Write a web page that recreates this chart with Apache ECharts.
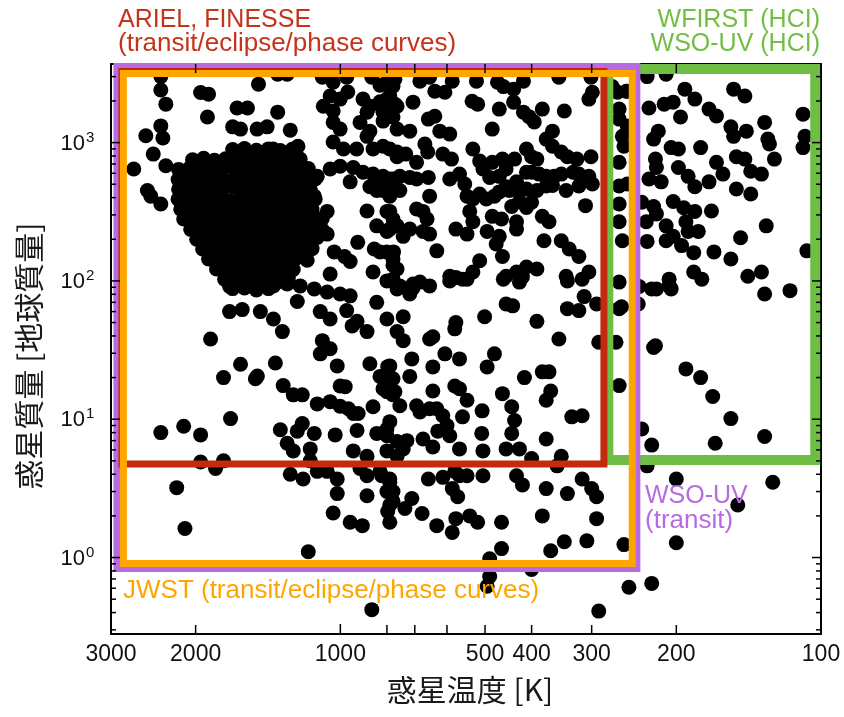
<!DOCTYPE html>
<html>
<head>
<meta charset="utf-8">
<script src="https://cdn.jsdelivr.net/npm/echarts@6/dist/echarts.min.js"></script>
<style>html,body{margin:0;padding:0;background:#fff}#c{width:844px;height:717px}</style>
</head>
<body>
<div id="c"></div>
<script>
// ---- planets: [temperature K, mass (Earth masses)] ----
const planetsUpperLeft = [
[2363,3000],[2363,2400],[2307,1897],[1953,2300],[1880,2240],[1480,2646],[1350,3124],[1290,3124],[1640,1780],[1560,1780],
[1890,1530],[1350,1660],[2363,1320],[2539,1120],[2340,1080],[2450,826],[2690,644],[2520,450],[2479,410],[2363,360],
[2307,680],[1675,1300],[1613,1252],[1490,1252],[1420,1300],[1271,1230],[1225,940],[1380,898],[1117,570],[1050,644],
[1133,410],[1065,318],[1065,218],[1030,162],[980,150],[920,190],[880,320],[850,170],[827,162],[775,162],
[800,318],[789,237],[815,450],[789,410]
];
const planetsHotJupiterCluster = [
[1675,890],[1583,905],[1495,880],[1411,900],[1333,875],[1259,895],
[2030,750],[1925,770],[1827,745],[1733,765],[1645,755],[1560,775],[1480,750],[1405,760],[1333,770],[1265,745],[1212,760],
[2170,640],[2058,655],[1953,630],[1853,650],[1758,640],[1667,660],[1583,635],[1502,650],[1425,645],[1352,630],[1283,655],[1218,640],[1166,650],
[2175,540],[2097,550],[1990,535],[1889,555],[1792,545],[1700,530],[1613,550],[1530,540],[1453,555],[1378,535],[1308,545],[1241,550],[1178,535],[1128,545],
[2170,460],[2058,470],[1953,455],[1853,465],[1758,460],[1667,475],[1583,455],[1502,468],[1425,460],[1352,470],[1283,455],[1218,465],[1155,460],
[2175,390],[2097,395],[1990,385],[1889,400],[1792,390],[1700,380],[1613,395],[1530,388],[1453,398],[1378,385],[1308,392],[1241,400],[1178,385],[1128,390],
[2148,330],[2038,335],[1934,325],[1836,338],[1741,330],[1652,322],[1567,335],[1488,328],[1411,336],[1339,325],[1271,332],[1206,340],[1145,328],
[2118,280],[2010,285],[1907,276],[1810,288],[1717,280],[1629,274],[1545,284],[1467,278],[1391,286],[1320,276],[1253,282],[1189,288],[1128,278],[1090,283],
[2048,236],[1943,240],[1844,233],[1750,242],[1660,236],[1575,230],[1495,240],[1418,235],[1346,242],[1277,232],[1212,238],[1150,243],[1090,234],
[1990,200],[1889,204],[1792,198],[1700,206],[1613,200],[1530,196],[1453,204],[1378,199],[1308,205],[1241,197],[1178,202],[1117,206],
[1934,170],[1836,173],[1741,167],[1652,175],[1567,170],[1488,166],[1411,174],[1339,169],[1271,172],[1206,166],[1145,171],
[1880,144],[1783,146],[1692,141],[1605,148],[1523,144],[1445,140],[1371,147],[1302,143],[1235,146],[1172,141],
[1810,122],[1717,124],[1629,120],[1545,125],[1467,121],[1391,118],[1320,124],[1253,121],
[1741,103],[1652,105],[1567,101],[1488,106],[1411,102],[1339,99],[1283,104],
[1675,88],[1583,89],[1495,86],[1411,88]
];
const planetsUpperMiddleA = [
[1090,2970],[1035,2730],[970,2970],[860,2970],[800,2730],[770,2873],[1050,2170],[1001,2062],[965,2320],[1085,1830],
[1035,1690],[897,2062],[868,1830],[827,1970],[789,2170],[762,1830],[880,1660],[815,1660],[777,1530],[1035,1400],
[1001,1252],[910,1400],[880,1110],[868,1210],[1035,1010],[985,898],[925,898],[855,898],[815,940],[762,855],
[1001,675],[940,660],[897,610],[855,592],[815,570],[777,545],[954,520],[868,480],[840,450],[789,318],
[777,280],[762,250],[840,250],[800,228],[800,162],[777,130],[954,138],[855,116],[777,103],[762,87.5],
[840,70],[1050,112]
];
const planetsMiddleLeft = [
[1700,91],[1488,90],[1378,92],[1290,95],[1212,92],[1133,87.5],[1065,83],[1001,80.5],[954,78],[1700,60],
[1600,62],[1467,60],[1378,53],[1320,43],[1229,71],[1101,60],[1050,53],[970,61],[1862,38],[1613,25],
[1488,20.5],[1502,19.6],[1750,20],[1365,25.5],[1315,17.5],[1253,15],[1200,15],[1090,37],[1101,29.7],[1050,32.3],
[1015,24.3],[1001,17.4],[977,17.2],[1117,12.9],[1050,13.4],[1001,12.4],[962,11.9],[880,43],[868,25.2],[945,47.3],
[923,51],[797,24],[781,19.6],[800,15.8],[777,15],[855,12.3],[940,11],[918,11],[1692,10.1],[2363,8.0],
[2118,8.9],[1953,7.7],[1953,4.9],[1818,4.4],[1750,5.0],[1333,8.4],[1290,6.7],[1253,5.9],[1229,8.2],[1200,9.3],
[1133,7.9],[1155,6.1],[1025,7.7],[923,8.3],[840,7.9],[800,8.5],[940,5.9],[880,5.4],[800,5.9],[762,5.4],
[1155,5.0],[1117,4.2],[1065,4.2],[1015,3.7],[1271,4.0],[1195,3.7],[910,4.4],[880,3.9],[820,3.9],[789,3.5],
[777,3.0],[1015,2.9],[880,2.8],[789,2.4],[2190,3.2],[1035,2.1],[954,1.8],[900,1.7],[789,1.8],[2105,1.62],
[1166,1.1],[860,0.42]
];
const planetsMiddleRight = [
[800,100],[752,92],[706,95],[652,92],[592,100],[545,103],[458,103],[424,98],[337,100],[314,103],
[263,98],[242,92],[225,87.5],[207,92],[717,80.5],[800,53],[740,55],[762,43],[740,37],[652,38],
[642,39.5],[575,50],[578,45],[501,55],[452,68],[438,66],[390,51],[351,38],[337,63],[319,61],
[311,77],[293,68],[263,63],[267,36],[263,17.5],[223,33],[290,36],[789,24.3],[827,20.4],[777,19.6],
[815,16.6],[770,15.8],[710,27.3],[717,20.4],[642,23.9],[606,29.7],[565,27.3],[495,23.9],[478,29.7],[414,20],
[380,22],[368,22],[365,16],[373,13.7],[460,15.3],[440,12.3],[434,9.8],[440,7.9],[424,6.1],[507,11.5],
[545,13.7],[565,16.6],[578,17.4],[642,16],[752,12.5],[694,12.5],[683,11.3],[652,11.9],[630,11.9],[612,10.6],
[600,9],[557,10.4],[508,7.9],[452,6.1],[373,7.2],[330,10.4],[314,10.6],[789,9.6],[800,7.6],[762,6.9],
[727,7.0],[673,7.2],[642,6.3],[627,8.2],[592,7.6],[740,6.1],[565,6.1],[505,5.9],[400,5.2],[347,5.4],
[354,4.6],[827,4.2],[789,3.7],[800,3.0],[777,2.55],[797,2.15],[656,3.7],[612,3.8],[578,4.2],[565,3.9],
[545,3.9],[505,3.9],[585,3.15],[570,2.75],[710,2.67],[734,2.26],[676,2.08],[630,1.7],[575,1.91],[585,1.52],
[538,2.0],[518,1.8],[462,1.8],[430,3.9],[418,3.35],[373,3.15],[337,2.9],[314,3.7],[300,3.15],[293,2.75],
[380,2.0],[293,1.91],[462,1.16],[365,1.12],[342,1.3],[307,1.32],[257,1.24],[489,0.98],[489,0.73],[400,0.82],
[251,0.61],[225,0.65],[236,8.5],[225,6.5],[230,4.6],[200,3.7],[200,1.28],[290,0.41],[495,0.62]
];
const planetsUpperMiddleB = [
[827,2600],[777,2560],[800,2062],[683,2780],[652,2970],[585,2780],[521,2780],[471,2730],[458,2540],[436,2434],
[416,2780],[351,2970],[301,2970],[299,2310],[265,2310],[253,2350],[636,2350],[606,2310],[706,1960],[770,1897],
[800,1606],[656,1478],[636,1550],[532,1990],[518,1897],[467,1746],[436,1960],[416,1660],[405,1540],[395,1410],
[380,1746],[342,1690],[304,2062],[263,1746],[263,1478],[253,1320],[762,1252],[717,1210],[621,1210],[592,1152],
[483,1252],[815,1430],[362,1210],[373,1060],[789,898],[762,790],[731,826],[694,720],[667,976],[658,855],
[612,826],[587,760],[530,898],[827,545],[789,545],[752,570],[717,560],[694,545],[656,560],[592,545],
[565,592],[551,502],[513,735],[505,644],[483,720],[460,760],[452,644],[434,760],[410,898],[400,790],
[390,760],[362,940],[347,855],[337,790],[322,760],[301,790],[263,720],[489,560],[467,570],[452,480],
[430,520],[410,610],[400,610],[386,592],[373,570],[359,570],[347,592],[328,610],[319,592],[304,570],
[299,502],[263,485],[789,440],[752,450],[652,410],[545,410],[530,391],[513,425],[497,391],[478,410],
[467,440],[445,450],[424,440],[410,462],[390,450],[373,485],[362,490],[339,450],[319,485],[440,345],
[424,375],[410,340],[400,370],[694,331],[673,318],[660,280],[538,318],[530,268],[483,293],[462,280],
[430,268],[380,293],[368,268],[309,350],[263,268],[740,210],[717,237],[673,228],[652,218],[575,237],
[545,218],[495,228],[467,210],[430,237],[377,195],[347,195],[334,170],[319,150],[777,144],[630,165],
[513,140],[474,185],[460,150],[410,126],[390,122],[418,107],[304,116],[762,122],[683,98],[706,89],
[592,108],[575,106],[557,103],[530,116],[452,108],[430,116],[339,108],[259,195],[263,360]
];
const planetsCool = [
[230,3000],[210,3124],[254,2350],[272,2540],[192,2434],[183,2062],[152,2434],[144,2170],[228,1780],[212,1897],
[203,1960],[196,1530],[171,1746],[165,1560],[131,1400],[109,1606],[154,1300],[152,1110],[143,1210],[218,1210],
[223,1060],[259,1110],[257,940],[205,920],[198,898],[178,920],[129,1060],[128,976],[125,760],[109,920],
[150,790],[144,760],[221,760],[220,660],[198,660],[165,720],[160,592],[140,620],[133,592],[228,545],
[215,520],[189,570],[183,480],[171,520],[150,462],[140,425],[253,502],[236,370],[223,345],[220,305],
[203,375],[193,338],[183,318],[169,320],[231,268],[210,250],[191,268],[189,228],[210,195],[203,210],
[230,193],[195,180],[184,160],[180,228],[167,162],[147,205],[130,250],[154,144],[107,165],[239,91],
[220,87.5],[207,103],[205,87.5],[184,116],[177,103],[142,108],[133,116],[131,80.5],[116,85],[260,65],
[240,68],[221,34],[191,23.1],[178,20],[168,14.6],[154,10.1],[166,6.7],[131,7.5],[126,3.5],[149,2.4],
[108,1110]
];
const planets = [].concat(planetsUpperLeft, planetsHotJupiterCluster, planetsUpperMiddleA,
  planetsMiddleLeft, planetsMiddleRight, planetsUpperMiddleB, planetsCool);

// ---- mission regions: [T left, M top, T right, M bottom] ----
const missionNames  = ['WFIRST / WSO-UV (HCI)', 'WSO-UV (transit)', 'ARIEL, FINESSE', 'JWST'];
const missionBoxes  = [[277,3405,102.8,5.07],[2916,3548,241.6,0.833],[2847,3266,282.9,4.74],[2827,3160,247,0.905]];
const missionColors = ['#6ebe45','#b66ce0','#c42a0e','#ffa500'];
const missionWidths = [10,7,7,7];

// ---- ticks ----
const xTickValues = [3000,2000,1000,800,700,600,500,400,300,200,100];
const xTickLabels = [3000,2000,1000,500,400,300,200,100];
const yMajorTicks = [1,10,100,1000];
const yMinorTicks = [0.3,0.4,0.5,0.6,0.7,0.8,0.9,2,3,4,5,6,7,8,9,20,30,40,50,60,70,80,90,200,300,400,500,600,700,800,900,2000,3000];
const yLabelExponents = [0,1,2,3];

const FONT = '"Liberation Sans", Arial, Helvetica, sans-serif';
const CJK = '"Noto Sans CJK JP", "Noto Sans CJK SC", sans-serif';

const chart = echarts.init(document.getElementById('c'), null, {renderer: 'canvas'});

const baseX = {type:'log', logBase:10, min:100, max:3000, inverse:true,
  axisLine:{show:true, onZero:false, lineStyle:{color:'#000', width:2}},
  axisTick:{show:false}, axisLabel:{show:false}, splitLine:{show:false}};
const baseY = {type:'log', logBase:10, min:0.28, max:3700,
  axisLine:{show:true, onZero:false, lineStyle:{color:'#000', width:2}},
  axisTick:{show:false}, axisLabel:{show:false}, splitLine:{show:false}};

const xTickData = xTickValues.map(v => [v, (v === 1000 || v === 100 || v === 3000) ? 10 : 9]);
const yTickData = yMajorTicks.map(v => [200, v, 9]).concat(yMinorTicks.map(v => [200, v, 5]));

chart.setOption({
  animation: false,
  backgroundColor: '#fff',
  grid: {left: 111, right: 23, top: 64, bottom: 83},
  xAxis: [Object.assign({position:'bottom'}, baseX), Object.assign({position:'top'}, baseX)],
  yAxis: [Object.assign({position:'left'}, baseY), Object.assign({position:'right'}, baseY)],
  series: [
    {
      type: 'scatter', data: planets, symbol: 'circle', symbolSize: 15,
      itemStyle: {color: '#000', opacity: 1}, silent: true, z: 2
    },
    {
      type: 'custom', z: 3, silent: true,
      data: missionBoxes,
      renderItem: function (params, api) {
        const i = params.dataIndex;
        const p1 = api.coord([api.value(0), api.value(1)]);
        const p2 = api.coord([api.value(2), api.value(3)]);
        return {
          type: 'rect',
          shape: {x: Math.min(p1[0], p2[0]), y: Math.min(p1[1], p2[1]),
                  width: Math.abs(p2[0] - p1[0]), height: Math.abs(p2[1] - p1[1])},
          style: {fill: 'none', stroke: missionColors[i], lineWidth: missionWidths[i], lineJoin: 'miter'}
        };
      }
    },
    {
      type: 'custom', z: 4, silent: true, data: xTickData,
      renderItem: function (params, api) {
        const cs = params.coordSys;
        const x = api.coord([api.value(0), 1])[0];
        const len = api.value(1);
        const st = {stroke: '#000', lineWidth: 1.5};
        return {type: 'group', children: [
          {type: 'line', shape: {x1: x, y1: cs.y + cs.height, x2: x, y2: cs.y + cs.height - len}, style: st},
          {type: 'line', shape: {x1: x, y1: cs.y, x2: x, y2: cs.y + len}, style: st}
        ]};
      }
    },
    {
      type: 'custom', z: 4, silent: true, data: yTickData,
      renderItem: function (params, api) {
        const cs = params.coordSys;
        const y = api.coord([200, api.value(1)])[1];
        const len = api.value(2);
        const st = {stroke: '#000', lineWidth: 1.5};
        return {type: 'group', children: [
          {type: 'line', shape: {x1: cs.x, y1: y, x2: cs.x + len, y2: y}, style: st},
          {type: 'line', shape: {x1: cs.x + cs.width, y1: y, x2: cs.x + cs.width - len, y2: y}, style: st}
        ]};
      }
    },
    {
      type: 'custom', z: 5, silent: true, data: xTickLabels.map(v => [v, 1]),
      renderItem: function (params, api) {
        const cs = params.coordSys;
        const x = api.coord([api.value(0), 1])[0];
        return {type: 'text', x: x, y: cs.y + cs.height + 21,
          style: {text: String(api.value(0)), font: '23px ' + FONT, fill: '#111',
                  align: 'center', verticalAlign: 'middle'}};
      }
    },
    {
      type: 'custom', z: 5, silent: true, data: yLabelExponents.map(e => [200, Math.pow(10, e), e]),
      renderItem: function (params, api) {
        const cs = params.coordSys;
        const y = api.coord([200, api.value(1)])[1];
        return {type: 'group', children: [
          {type: 'text', x: cs.x - 26, y: y + 1,
           style: {text: '10', font: '22px ' + FONT, fill: '#111', align: 'right', verticalAlign: 'middle'}},
          {type: 'text', x: cs.x - 25, y: y - 5,
           style: {text: String(api.value(2)), font: '15px ' + FONT, fill: '#111', align: 'left', verticalAlign: 'middle'}}
        ]};
      }
    }
  ],
  graphic: [
    {type: 'text', x: 118, y: 20, z: 10, style: {text: 'ARIEL, FINESSE', font: '25px ' + FONT, fill: '#c4331a', align: 'left', verticalAlign: 'middle'}},
    {type: 'text', x: 118, y: 44, z: 10, style: {text: '(transit/eclipse/phase curves)', font: '26px ' + FONT, fill: '#c4331a', align: 'left', verticalAlign: 'middle'}},
    {type: 'text', x: 820, y: 20, z: 10, style: {text: 'WFIRST (HCI)', font: '25px ' + FONT, fill: '#72be45', align: 'right', verticalAlign: 'middle'}},
    {type: 'text', x: 820, y: 44, z: 10, style: {text: 'WSO-UV (HCI)', font: '25px ' + FONT, fill: '#72be45', align: 'right', verticalAlign: 'middle'}},
    {type: 'text', x: 645, y: 496, z: 10, style: {text: 'WSO-UV', font: '25px ' + FONT, fill: '#b66ce0', align: 'left', verticalAlign: 'middle'}},
    {type: 'text', x: 645, y: 521, z: 10, style: {text: '(transit)', font: '26px ' + FONT, fill: '#b66ce0', align: 'left', verticalAlign: 'middle'}},
    {type: 'text', x: 123, y: 591, z: 10, style: {text: 'JWST (transit/eclipse/phase curves)', font: '26px ' + FONT, fill: '#ffa500', align: 'left', verticalAlign: 'middle'}},
    {type: 'text', x: 470, y: 690, z: 10, style: {text: '惑星温度 [K]', font: '30px ' + CJK, fill: '#1a1a1a', align: 'center', verticalAlign: 'middle'}},
    {type: 'text', x: 29, y: 356, rotation: Math.PI / 2, z: 10, style: {text: '惑星質量 [地球質量]', font: '30px ' + CJK, fill: '#1a1a1a', align: 'center', verticalAlign: 'middle'}}
  ]
});
</script>
</body>
</html>
